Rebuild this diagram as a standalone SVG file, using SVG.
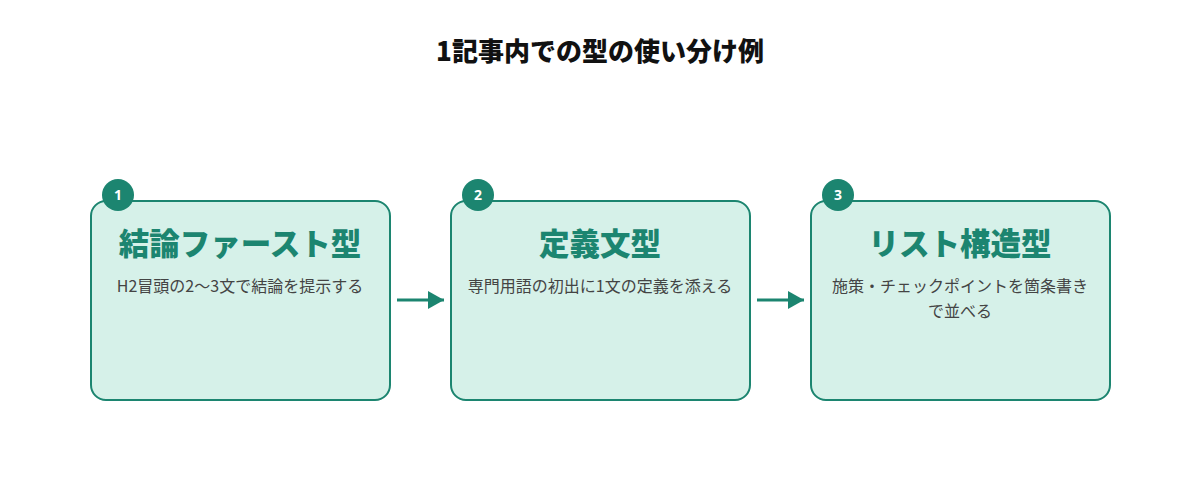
<svg xmlns="http://www.w3.org/2000/svg" width="1200" height="500" viewBox="0 0 1200 500">
<defs>
<style>
.box{fill:#d6f1e9;stroke:#1c8570;stroke-width:2}
.badge{fill:#1c8570}
.bnum{font-family:"Noto Sans","Noto Sans CJK JP",sans-serif;font-size:14px;font-weight:700;fill:#fff;text-anchor:middle}
.ttl{font-family:"Noto Sans CJK JP",sans-serif;font-size:30.5px;font-weight:900;fill:#1c8570;text-anchor:middle}
.sub{font-family:"Noto Sans CJK JP",sans-serif;font-size:16px;fill:#444;text-anchor:middle}
.head{font-family:"Noto Sans CJK JP",sans-serif;font-size:26px;font-weight:900;fill:#111;text-anchor:middle}
.conn{stroke:#1c8570;stroke-width:3;fill:none}
</style>
<marker id="ah2" markerWidth="16" markerHeight="18" refX="16" refY="9" orient="auto" markerUnits="userSpaceOnUse">
<path d="M0,0 L16,9 L0,18 z" fill="#1c8570"/>
</marker>
</defs>
<rect width="1200" height="500" fill="#fff"/>
<text class="head" x="600" y="61">1記事内での型の使い分け例</text>
<g id="connectors">
<line class="conn" x1="397" y1="300" x2="444" y2="300" marker-end="url(#ah2)"/>
<line class="conn" x1="757" y1="300" x2="804" y2="300" marker-end="url(#ah2)"/>
</g>
<g id="node1">
<rect class="box" x="91" y="201" width="299" height="199" rx="15"/>
<circle class="badge" cx="118" cy="195" r="16"/>
<text class="bnum" x="118" y="200">1</text>
<text class="ttl" x="240" y="255">結論ファースト型</text>
<text class="sub" x="240" y="292">H2冒頭の2〜3文で結論を提示する</text>
</g>
<g id="node2">
<rect class="box" x="451" y="201" width="299" height="199" rx="15"/>
<circle class="badge" cx="478" cy="195" r="16"/>
<text class="bnum" x="478" y="200">2</text>
<text class="ttl" x="600" y="255">定義文型</text>
<text class="sub" x="600" y="292">専門用語の初出に1文の定義を添える</text>
</g>
<g id="node3">
<rect class="box" x="811" y="201" width="299" height="199" rx="15"/>
<circle class="badge" cx="838" cy="195" r="16"/>
<text class="bnum" x="838" y="200">3</text>
<text class="ttl" x="960" y="255">リスト構造型</text>
<text class="sub" x="960" y="292">施策・チェックポイントを箇条書き</text>
<text class="sub" x="960" y="317">で並べる</text>
</g>
</svg>
